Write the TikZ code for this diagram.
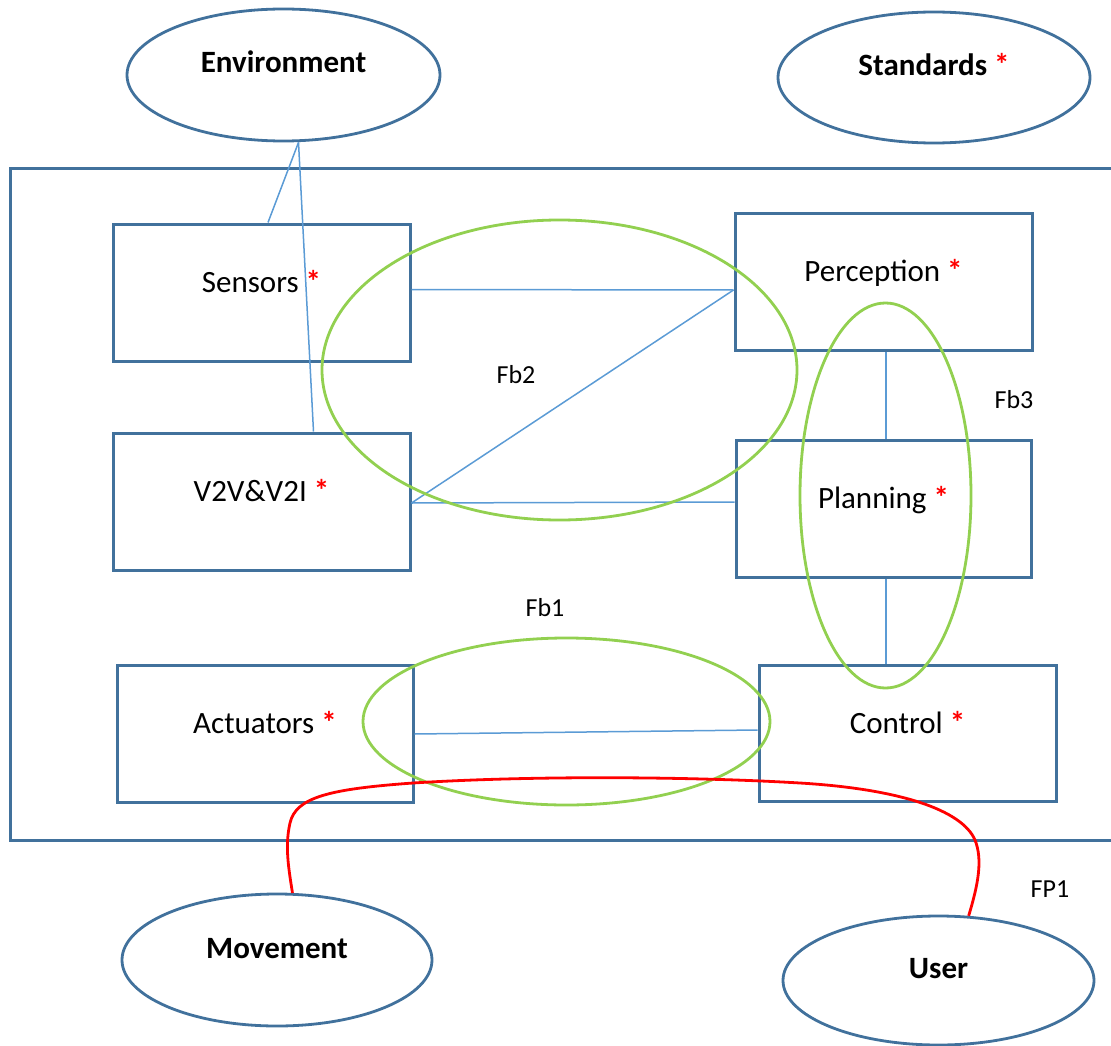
\documentclass[tikz,border=0pt]{standalone}
\usepackage{fontspec}
\setmainfont{Carlito}
\usetikzlibrary{shapes.geometric}
\definecolor{boxblue}{HTML}{41719C}
\definecolor{linkblue}{HTML}{5B9BD5}
\definecolor{fbgreen}{HTML}{92D050}
\definecolor{fpred}{HTML}{FF0000}
\newcommand{\rstar}{{\color{fpred}\bfseries *}}
\begin{document}
\begin{tikzpicture}[x=1pt,y=-1pt,
  block/.style={draw=boxblue,line width=3pt,rectangle,inner sep=0pt,minimum width=297pt,minimum height=137pt},
  oval/.style={draw=boxblue,line width=2.8pt,ellipse,inner sep=0pt},
  txt/.style={anchor=base,inner sep=0pt,font=\fontsize{31}{37}\selectfont},
  btxt/.style={txt,font=\fontsize{31}{37}\selectfont\bfseries},
  fblab/.style={inner sep=0pt,font=\fontsize{26}{31}\selectfont},
  link/.style={draw=linkblue,line width=1.5pt},
  fbring/.style={draw=fbgreen,line width=2.8pt},
  fpline/.style={draw=fpred,line width=2.8pt}]
\useasboundingbox (0,0) rectangle (1111,1046);
% system frame
\draw[boxblue,line width=3pt] (1120,168) -- (10,168) -- (10,840.5) -- (1120,840.5);
% outer ellipses
\node[oval,minimum width=313pt,minimum height=132pt] (env) at (283.5,75) {};
\node[btxt] (envT) at ([yshift=2pt]env.center) {Environment};
\node[oval,minimum width=312pt,minimum height=131pt] (std) at (934,77.5) {};
\node[btxt] (stdT) at ([yshift=2pt]std.center) {Standards \rstar};
\node[oval,minimum width=310pt,minimum height=132pt] (mov) at (277,960) {};
\node[btxt] (movT) at ([yshift=2pt]mov.center) {Movement};
\node[oval,minimum width=311pt,minimum height=129pt] (usr) at (938.5,980.5) {};
\node[btxt] (usrT) at ([yshift=2pt]usr.center) {User};
% blocks
\node[block] (sens) at (261.5,292.5) {};
\node[txt] (sensT) at (sens.center) {Sensors \rstar};
\node[block] (v2v) at (261.5,501.5) {};
\node[txt] (v2vT) at (v2v.center) {V2V\&V2I \rstar};
\node[block,minimum width=296pt] (act) at (265,733.5) {};
\node[txt] (actT) at (act.center) {Actuators \rstar};
\node[block] (perc) at (883.5,281.5) {};
\node[txt] (percT) at (perc.center) {Perception \rstar};
\node[block,minimum width=295pt] (plan) at (883.5,508.5) {};
\node[txt] (planT) at (plan.center) {Planning \rstar};
\node[block,minimum height=136pt] (ctrl) at (907.5,733) {};
\node[txt] (ctrlT) at (ctrl.center) {Control \rstar};
% connectors
\draw[link] ([xshift=15pt]env.south) -- ([xshift=6.5pt]sens.north);
\draw[link] ([xshift=15pt]env.south) -- ([xshift=52pt]v2v.north);
\draw[link] ([yshift=3pt]sens.east) -- ([yshift=-8.5pt]perc.west);
\draw[link] ([yshift=-1.5pt]v2v.east) -- ([yshift=-8.5pt]perc.west);
\draw[link] ([yshift=-1.5pt]v2v.east) -- ([yshift=6.5pt]plan.west);
\draw[link] ([xshift=2.5pt]perc.south) -- ([xshift=2.5pt]plan.north);
\draw[link] ([xshift=2.5pt]plan.south) -- ([xshift=2.5pt]plan.south |- ctrl.north);
\draw[link] ([yshift=-0.5pt]act.east) -- ([yshift=3pt]ctrl.west);
% feedback rings
\draw[fbring] (559.5,370) ellipse [x radius=237.5, y radius=150];
\draw[fbring] (885.5,495.5) ellipse [x radius=85.5, y radius=192.5];
\draw[fbring] (566.5,721.5) ellipse [x radius=203.5, y radius=83.5];
\node[fblab] (fb2) at (516,375) {Fb2};
\node[fblab] (fb3) at (1014,400) {Fb3};
\node[fblab] (fb1) at (545,608) {Fb1};
\node[fblab] (fp1) at (1050,889) {FP1};
% FP1 red path
\draw[fpline] (mov.77) .. controls (288,865) and (285,845) .. (290,823)
  .. controls (296,797) and (330,789) .. (413,783)
  .. controls (540,775) and (700,777) .. (800,783)
  .. controls (900,789) and (962,810) .. (975,840)
  .. controls (983,860) and (978,885) .. (usr.65);
\end{tikzpicture}
\end{document}
